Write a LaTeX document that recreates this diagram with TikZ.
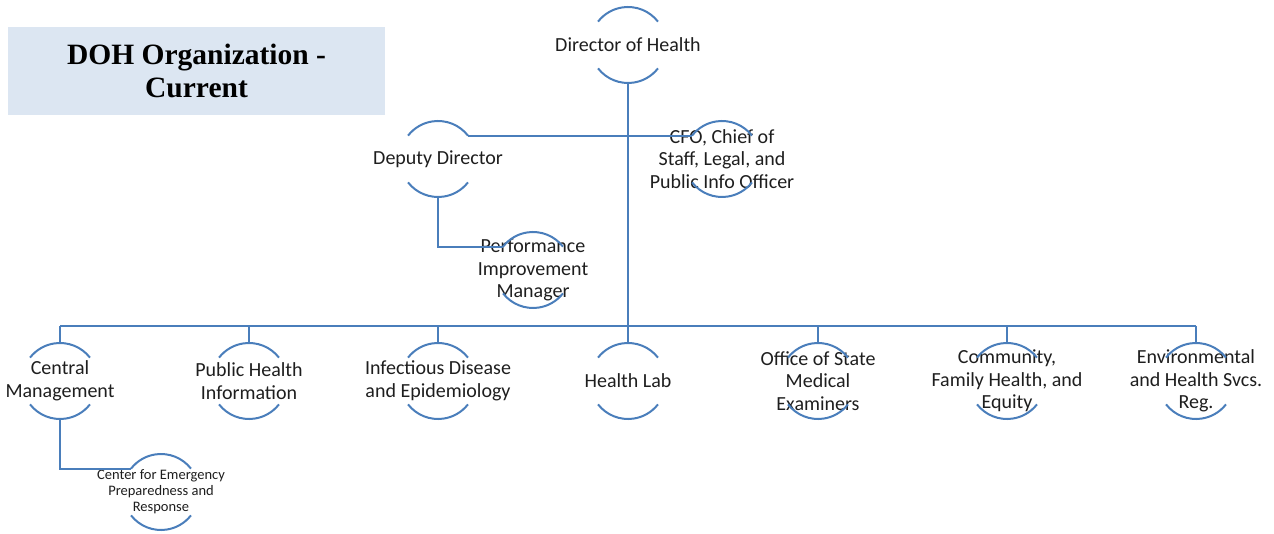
\documentclass[tikz,border=0pt]{standalone}
\usepackage{fontspec}
\setmainfont{Carlito}
\newfontfamily\titlefont{Liberation Serif}
\usepackage[dvipsnames]{xcolor}
\definecolor{orgline}{HTML}{4A7EBB}
\definecolor{titlebg}{HTML}{DCE6F2}
\definecolor{orgtext}{HTML}{1E1E1E}

\begin{document}
\begin{tikzpicture}[x=1pt,y=1pt,
  ring/.style={circle,minimum size=76,inner sep=0,outer sep=0},
  unit/.style={align=center,text=orgtext,font=\fontsize{20}{22.5}\selectfont},
  small/.style={align=center,text=orgtext,font=\fontsize{14.5}{16}\selectfont},
  link/.style={orgline,line width=2}]
 \useasboundingbox (0,0) rectangle (1274,-534);
 \node[fill=titlebg,minimum width=377,minimum height=88,align=center,
  font=\titlefont\bfseries\fontsize{29.5}{33}\selectfont] (title) at (196.5,-71)
  {DOH Organization -\\Current};

 \node[ring,label={[unit]center:Director of Health}] (dir) at (628,-45) {};
 \node[ring,label={[unit]center:Deputy Director}] (dep) at (438,-159) {};
 \node[ring,label={[unit]center:{CFO, Chief of\\Staff, Legal, and\\Public Info Officer}}] (cfo) at (722,-159) {};
 \node[ring,label={[unit]center:{Performance\\Improvement\\Manager}}] (pim) at (533,-270) {};

 \node[ring,label={[unit]center:{Central\\Management}}] (cm) at (60,-381) {};
 \node[ring,label={[unit]center:{Public Health\\Information}}] (phi) at (249,-381) {};
 \node[ring,label={[unit]center:{Infectious Disease\\and Epidemiology}}] (ide) at (438,-381) {};
 \node[ring,label={[unit]center:Health Lab}] (lab) at (628,-381) {};
 \node[ring,label={[unit]center:{Office of State\\Medical\\Examiners}}] (osme) at (818,-381) {};
 \node[ring,label={[unit]center:{Community,\\Family Health, and\\Equity}}] (cfhe) at (1007,-381) {};
 \node[ring,label={[unit]center:{Environmental\\and Health Svcs.\\Reg.}}] (env) at (1196,-381) {};
 \node[ring,label={[small]center:{Center for Emergency\\Preparedness and\\Response}}] (cfe) at (161,-492) {};

 \foreach \n in {dir,dep,cfo,pim,cm,phi,ide,lab,osme,cfhe,env,cfe}
  \draw[link] (\n.38) arc[start angle=38,end angle=142,radius=38]
   (\n.218) arc[start angle=218,end angle=322,radius=38];

 \coordinate (bus) at (628,-326);
 \draw[link] (dir.south) -- (lab.north);
 \draw[link] (dep.38) -- (cfo.142);
 \draw[link] (dep.south) |- (pim.142);
 \draw[link] (cm.south) |- (cfe.142);
 \draw[link] (cm.north |- bus) -- (env.north |- bus);
 \foreach \n in {cm,phi,ide,osme,cfhe,env}
  \draw[link] (\n.north |- bus) -- (\n.north);
\end{tikzpicture}
\end{document}
